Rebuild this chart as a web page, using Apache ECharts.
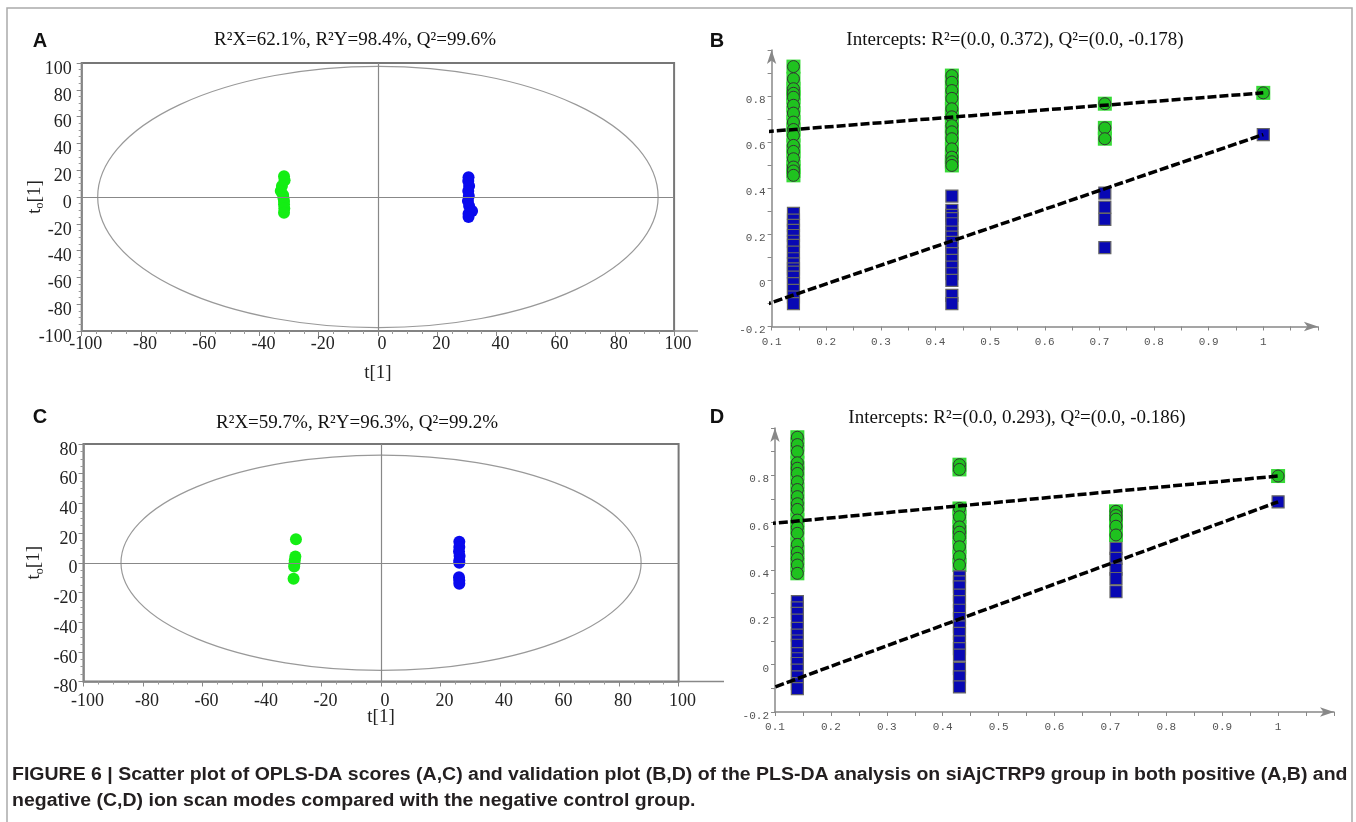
<!DOCTYPE html>
<html>
<head>
<meta charset="utf-8">
<script src="https://cdn.jsdelivr.net/npm/echarts@6.0.0/dist/echarts.min.js"></script>
<style>
  html, body { margin: 0; padding: 0; background: #fff; }
  #chart { width: 1356px; height: 822px; }
</style>
</head>
<body>
<div id="chart"></div>
<script>
// OPLS-DA score plots: A (positive mode), C (negative mode)
const scoreGreenA = [[-31.7, 15.4], [-31.5, 12.5], [-32.4, 8.2], [-32.8, 4.5], [-32.0, 1.5], [-31.9, -0.5], [-31.7, -3.0], [-31.7, -5.4], [-31.6, -8.5], [-31.7, -11.8]];
const scoreBlueA = [[30.6, 14.8], [30.5, 11.9], [30.8, 8.2], [30.5, 4.5], [30.7, 0.7], [30.4, -3.0], [30.8, -6.7], [31.8, -10.4], [30.6, -12.5], [30.6, -15.0]];
const scoreGreenC = [[-28.6, 15.9], [-28.8, 4.2], [-29.0, 1.7], [-29.1, -0.6], [-29.2, -2.5], [-29.4, -10.7]];
const scoreBlueC = [[26.3, 14.1], [26.3, 10.6], [26.2, 7.5], [26.4, 4.5], [26.3, 1.5], [26.3, 0.0], [26.2, -9.7], [26.3, -12.0], [26.3, -14.1]];
// Hotelling T2 ellipse semi axes [t[1], to[1]]
const ellipseA = [94.6, 97.5];
const ellipseC = [87.4, 72.5];

const titleA = 'R²X=62.1%, R²Y=98.4%, Q²=99.6%';
const titleC = 'R²X=59.7%, R²Y=96.3%, Q²=99.2%';
const titleB = 'Intercepts: R²=(0.0, 0.372), Q²=(0.0, -0.178)';
const titleD = 'Intercepts: R²=(0.0, 0.293), Q²=(0.0, -0.186)';

// permutation validation plots: B (positive), D (negative)
const permX = [0.14, 0.43, 0.71, 1];
const r2B = [
  [0.928, 0.875, 0.832, 0.812, 0.795, 0.76, 0.726, 0.687, 0.655, 0.629, 0.586, 0.56, 0.528, 0.492, 0.475, 0.456],
  [0.889, 0.86, 0.824, 0.79, 0.745, 0.71, 0.672, 0.645, 0.615, 0.571, 0.535, 0.515, 0.499],
  [0.767, 0.662, 0.615],
  [0.814]
];
const q2B = [
  [0.291, 0.262, 0.239, 0.217, 0.195, 0.17, 0.152, 0.123, 0.094, 0.072, 0.05, 0.036, 0.014, -0.014, -0.043, -0.072, -0.101],
  [0.366, 0.304, 0.282, 0.268, 0.246, 0.21, 0.188, 0.165, 0.144, 0.116, 0.087, 0.058, 0.029, 0.0, -0.065, -0.101],
  [0.379, 0.318, 0.265, 0.142],
  [0.633]
];
const r2D = [
  [0.961, 0.93, 0.9, 0.853, 0.83, 0.808, 0.773, 0.74, 0.71, 0.68, 0.656, 0.611, 0.58, 0.555, 0.508, 0.475, 0.449, 0.421, 0.386],
  [0.845, 0.825, 0.66, 0.625, 0.582, 0.56, 0.538, 0.498, 0.456, 0.421],
  [0.648, 0.63, 0.615, 0.585, 0.548],
  [0.797]
];
const q2D = [
  [0.266, 0.24, 0.217, 0.188, 0.153, 0.125, 0.1, 0.082, 0.047, 0.025, 0.005, -0.023, -0.052, -0.08, -0.101],
  [0.371, 0.35, 0.329, 0.294, 0.266, 0.23, 0.195, 0.16, 0.132, 0.096, 0.068, 0.04, -0.016, -0.052, -0.094],
  [0.491, 0.449, 0.404, 0.364, 0.308],
  [0.688]
];
// regression lines, values at x = 0 and x = 1
const lineX = [0, 1];
const r2LineB = [0.629, 0.814];
const q2LineB = [-0.177, 0.633];
const r2LineD = [0.576, 0.797];
const q2LineD = [-0.181, 0.688];

const caption1 = 'FIGURE 6 | Scatter plot of OPLS-DA scores (A,C) and validation plot (B,D) of the PLS-DA analysis on siAjCTRP9 group in both positive (A,B) and';
const caption2 = 'negative (C,D) ion scan modes compared with the negative control group.';

const SERIF = 'Liberation Serif';
const SANS = 'Liberation Sans';

function pairs(cols) {
  const out = [];
  cols.forEach((c, i) => c.forEach(v => out.push([permX[i], v])));
  return out;
}

function scoreX(gi, gap, margin) {
  return {
    type: 'value', gridIndex: gi, min: -100, max: 100, interval: 20,
    name: 't[1]', nameLocation: 'middle', nameGap: gap, nameMoveOverlap: false,
    nameTextStyle: { fontFamily: SERIF, fontSize: 19, color: '#222' },
    axisLine: { onZero: false, lineStyle: { color: '#888', width: 1.5 } },
    axisTick: { length: 5, lineStyle: { color: '#888' } },
    minorTick: { show: true, splitNumber: 4, length: 3, lineStyle: { color: '#999' } },
    axisLabel: { margin: margin, fontFamily: SERIF, fontSize: 18, color: '#222', padding: [0, 0, 0, 8] },
    splitLine: { show: false }
  };
}

function scoreY(gi, lim, gap, margin) {
  return {
    type: 'value', gridIndex: gi, min: -lim, max: lim, interval: 20,
    name: '{t|t}{s|o}{t|[1]}', nameLocation: 'middle', nameGap: gap, nameMoveOverlap: false,
    nameTextStyle: {
      rich: {
        t: { fontFamily: SERIF, fontSize: 19, color: '#222', lineHeight: 22 },
        s: { fontFamily: SERIF, fontSize: 12, color: '#222', lineHeight: 8, verticalAlign: 'bottom' }
      }
    },
    axisLine: { onZero: false, lineStyle: { color: '#888', width: 1.5 } },
    axisTick: { length: 5, lineStyle: { color: '#888' } },
    minorTick: { show: true, splitNumber: 4, length: 3, lineStyle: { color: '#999' } },
    axisLabel: { margin: margin, fontFamily: SERIF, fontSize: 18, color: '#222', verticalAlign: 'top', lineHeight: 12 },
    splitLine: { show: false }
  };
}

function valX(gi) {
  return {
    type: 'value', gridIndex: gi, min: 0.1, max: 1.1, interval: 0.1,
    axisLine: { onZero: false, symbol: ['none', 'arrow'], symbolSize: [7, 14], lineStyle: { color: '#888', width: 1.5 } },
    axisTick: { length: 4, lineStyle: { color: '#888' } },
    minorTick: { show: true, splitNumber: 2, length: 4, lineStyle: { color: '#888' } },
    axisLabel: { showMaxLabel: false, margin: 10, fontFamily: 'Liberation Mono', fontSize: 11, color: '#555' },
    splitLine: { show: false }
  };
}

function valY(gi) {
  return {
    type: 'value', gridIndex: gi, min: -0.2, max: 1.0, interval: 0.2,
    axisLine: { onZero: false, symbol: ['none', 'arrow'], symbolSize: [7, 14], lineStyle: { color: '#888', width: 1.5 } },
    axisTick: { length: 4, lineStyle: { color: '#888' } },
    minorTick: { show: true, splitNumber: 2, length: 4, lineStyle: { color: '#888' } },
    axisLabel: { showMaxLabel: false, margin: 6, fontFamily: 'Liberation Mono', fontSize: 11, color: '#555', verticalAlign: 'top', lineHeight: 8 },
    splitLine: { show: false }
  };
}

function ellipse(gi, semi) {
  return {
    type: 'custom', xAxisIndex: gi, yAxisIndex: gi, silent: true, z: 1,
    data: [[0, 0, semi[0], semi[1]]],
    renderItem: function (params, api) {
      const c = api.coord([api.value(0), api.value(1)]);
      const s = api.size([api.value(2), api.value(3)]);
      const d = 'M' + (c[0] - s[0]) + ' ' + c[1] +
        ' A' + s[0] + ' ' + s[1] + ' 0 1 0 ' + (c[0] + s[0]) + ' ' + c[1] +
        ' A' + s[0] + ' ' + s[1] + ' 0 1 0 ' + (c[0] - s[0]) + ' ' + c[1] + ' Z';
      return { type: 'path', shape: { pathData: d }, style: { fill: 'none', stroke: '#999', lineWidth: 1.2 } };
    }
  };
}

function scores(gi, green, blue) {
  return [
    {
      type: 'scatter', xAxisIndex: gi, yAxisIndex: gi, data: green, symbolSize: 12, z: 3,
      itemStyle: { color: '#14ee14', opacity: 1 },
      markLine: {
        silent: true, symbol: 'none', label: { show: false },
        lineStyle: { color: '#888', type: 'solid', width: 1.2 },
        data: [{ xAxis: 0 }, { yAxis: 0 }]
      }
    },
    {
      type: 'scatter', xAxisIndex: gi, yAxisIndex: gi, data: blue, symbolSize: 12, z: 3,
      itemStyle: { color: '#0a0aee', opacity: 1 }
    }
  ];
}

function validation(gi, r2, q2, r2Line, q2Line) {
  const dash = { color: '#000', width: 3.5, type: [9, 3] };
  return [
    { type: 'scatter', xAxisIndex: gi, yAxisIndex: gi, data: pairs(r2), symbol: 'rect', symbolSize: 14, z: 2,
      itemStyle: { color: '#36da36', opacity: 1 } },
    { type: 'scatter', xAxisIndex: gi, yAxisIndex: gi, data: pairs(r2), symbol: 'circle', symbolSize: 12, z: 3,
      itemStyle: { color: '#1fc21f', borderColor: '#333', borderWidth: 1, opacity: 1 } },
    { type: 'scatter', xAxisIndex: gi, yAxisIndex: gi, data: pairs(q2), symbol: 'rect', symbolSize: 12, z: 3,
      itemStyle: { color: '#0808b4', borderColor: '#666', borderWidth: 1.2, opacity: 1 } },
    { type: 'line', xAxisIndex: gi, yAxisIndex: gi, data: lineX.map((x, i) => [x, r2Line[i]]),
      symbol: 'none', clip: false, z: 4, lineStyle: dash },
    { type: 'line', xAxisIndex: gi, yAxisIndex: gi, data: lineX.map((x, i) => [x, q2Line[i]]),
      symbol: 'none', clip: false, z: 4, lineStyle: dash }
  ];
}

function label(x, y, text, font, sx) {
  return {
    type: 'text', x: x, y: y, scaleX: sx || 1, silent: true,
    style: Object.assign({ text: text, align: 'center', verticalAlign: 'middle', textAlign: 'center', textVerticalAlign: 'middle', fill: '#111' }, font)
  };
}

function rule(x1, y1, x2, y2) {
  return { type: 'line', silent: true, shape: { x1: x1, y1: y1, x2: x2, y2: y2 }, style: { stroke: '#888', lineWidth: 1.5 } };
}

const letterFont = { fontFamily: SANS, fontWeight: 'bold', fontSize: 20 };
const titleFont = { fontFamily: SERIF, fontSize: 19 };
const captionFont = { fontFamily: SANS, fontWeight: 'bold', fontSize: 18, fill: '#231f20', align: 'left', textAlign: 'left' };

const chart = echarts.init(document.getElementById('chart'));
chart.setOption({
  animation: false,
  backgroundColor: '#fff',
  grid: [
    { left: 81.7, top: 63, width: 592.4, height: 268, show: true, borderColor: '#777', borderWidth: 2, backgroundColor: 'transparent' },
    { left: 771.6, top: 50, width: 546.3, height: 276.5 },
    { left: 83.5, top: 444, width: 595.1, height: 237.5, show: true, borderColor: '#777', borderWidth: 2, backgroundColor: 'transparent' },
    { left: 775, top: 428, width: 559, height: 284 }
  ],
  xAxis: [scoreX(0, 33, 4), valX(1), scoreX(2, 26, 11), valX(3)],
  yAxis: [scoreY(0, 100, 36, 10), valY(1), scoreY(2, 80, 38, 6), valY(3)],
  series: [].concat(
    [ellipse(0, ellipseA)], scores(0, scoreGreenA, scoreBlueA),
    [ellipse(2, ellipseC)], scores(2, scoreGreenC, scoreBlueC),
    validation(1, r2B, q2B, r2LineB, q2LineB),
    validation(3, r2D, q2D, r2LineD, q2LineD)
  ),
  graphic: [
    { type: 'rect', silent: true, z: -10, shape: { x: 7, y: 8, width: 1345, height: 830 },
      style: { fill: 'none', stroke: '#aaa', lineWidth: 1.5 } },
    rule(674, 331, 698, 331),
    rule(678, 681.5, 724, 681.5),
    label(40, 41, 'A', letterFont),
    label(717, 41, 'B', letterFont),
    label(40, 417, 'C', letterFont),
    label(717, 417, 'D', letterFont),
    label(355, 40, titleA, titleFont),
    label(1015, 40, titleB, titleFont),
    label(357, 423, titleC, titleFont),
    label(1017, 418, titleD, titleFont),
    label(12, 775, caption1, captionFont, 1.083),
    label(12, 801, caption2, captionFont, 1.083)
  ]
});
</script>
</body>
</html>
